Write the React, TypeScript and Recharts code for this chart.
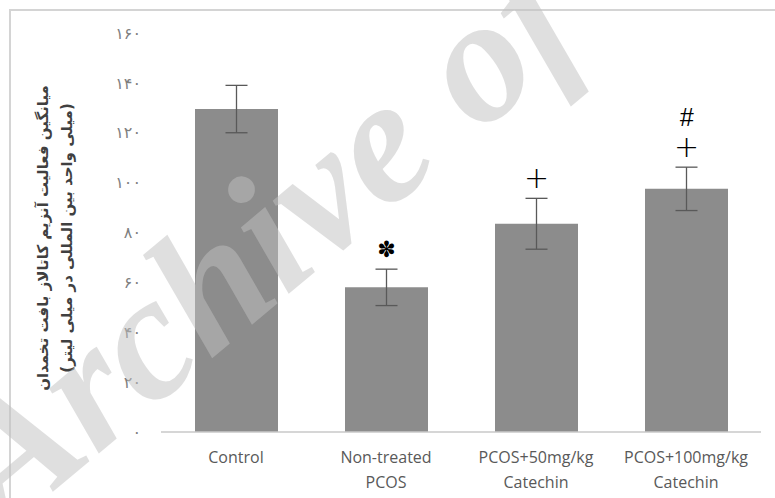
import { BarChart, Bar, XAxis, YAxis, ErrorBar, LabelList } from "recharts";

const groups: string[] = [
  "Control",
  "Non-treated\nPCOS",
  "PCOS+50mg/kg\nCatechin",
  "PCOS+100mg/kg\nCatechin",
];
const means: number[] = [129.5, 58, 83.5, 97.5];
const errors: number[] = [9.5, 7.3, 10.2, 8.7];
const marks: string[][] = [[], ["✽"], ["+"], ["+", "#"]];
const yTicks: number[] = [0, 20, 40, 60, 80, 100, 120, 140, 160];

const titleLine1 = "میانگین فعالیت آنزیم کاتالاز بافت تخمدان";
const titleLine2 = "(میلی واحد بین المللی در میلی لیتر)";

const data = groups.map((g, i) => ({ name: g, mean: means[i], err: errors[i] }));

const faDigits = "۰۱۲۳۴۵۶۷۸۹";
const toFa = (v: number) => String(v).replace(/[0-9]/g, (d) => faDigits[Number(d)]);

function GroupTick(props: any) {
  const { x, y, payload } = props;
  const lines = String(payload.value).split("\n");
  return (
    <text x={x} y={y + 23} textAnchor="middle" fill="#595959" fontSize={16} fontFamily="Open Sans">
      {lines.map((l, i) => (
        <tspan key={i} x={x} dy={i === 0 ? 0 : 25}>
          {l}
        </tspan>
      ))}
    </text>
  );
}

function MarkLabel(props: any) {
  const { x, y, width, height, value, index } = props;
  const list = marks[index] || [];
  if (!list.length) return null;
  const pxPerUnit = height / value;
  const errTop = y - errors[index] * pxPerUnit;
  const cx = x + width / 2;
  return (
    <g>
      {list.map((m, i) => {
        const cy = errTop - 20 - i * 30;
        if (m === "+") {
          return (
            <text key={i} x={cx} y={cy + 10} textAnchor="middle" fontSize={30} fontWeight={300} fontFamily="DejaVu Sans" fill="#000">
              {m}
            </text>
          );
        }
        if (m === "#") {
          return (
            <text key={i} x={cx} y={cy + 9} textAnchor="middle" fontSize={25} fontFamily="Liberation Sans" fontStyle="italic" fill="#000">
              {m}
            </text>
          );
        }
        return (
          <text key={i} x={cx} y={cy + 8} textAnchor="middle" fontSize={22} fontFamily="DejaVu Sans" fill="#000">
            {m}
          </text>
        );
      })}
    </g>
  );
}

export default function App() {
  return (
    <div style={{ position: "absolute", left: 0, top: 0, width: 775, height: 498, background: "#fff", overflow: "hidden" }}>
      <div
        style={{
          position: "absolute",
          left: 9,
          top: 9,
          width: 800,
          height: 520,
          borderLeft: "2px solid #d4d4d4",
          borderTop: "2px solid #d4d4d4",
        }}
      />
      <BarChart
        width={775}
        height={498}
        data={data}
        margin={{ top: 33, right: 14, bottom: 0, left: 0 }}
        style={{ position: "absolute", left: 0, top: 0 }}
      >
        <XAxis
          dataKey="name"
          height={66}
          interval={0}
          tickLine={false}
          axisLine={{ stroke: "#c8c8c8", strokeWidth: 1.5 }}
          tick={<GroupTick />}
        />
        <YAxis
          width={161}
          domain={[0, 160]}
          ticks={yTicks}
          tickFormatter={toFa}
          axisLine={false}
          tickLine={false}
          tickSize={0}
          tickMargin={20}
          tick={{ fill: "#7f7f7f", fontSize: 16, fontFamily: "DejaVu Sans", letterSpacing: 2 }}
        />
        <Bar dataKey="mean" fill="#8c8c8c" barSize={83} isAnimationActive={false}>
          <ErrorBar dataKey="err" width={11} stroke="#595959" strokeWidth={1.3} />
          <LabelList dataKey="mean" content={<MarkLabel />} />
        </Bar>
      </BarChart>
      <svg width={775} height={498} style={{ position: "absolute", left: 0, top: 0, pointerEvents: "none" }}>
        <g fontFamily="DejaVu Sans" fontWeight="bold" fontSize={15} fill="#404040" textAnchor="middle" direction="rtl">
          <text x={0} y={0} transform="translate(48,238) rotate(-90)" direction="rtl">
            {titleLine1}
          </text>
          <text x={0} y={0} transform="translate(72,238) rotate(-90)" direction="rtl">
            {titleLine2}
          </text>
        </g>
        <text
          x={0}
          y={0}
          transform="translate(5,532) rotate(-40)"
          fontFamily="Liberation Serif"
          fontStyle="italic"
          fontWeight="bold"
          fontSize={178}
          fill="#c0c0c0"
          fillOpacity={0.5}
        >
          Archive of
        </text>
      </svg>
    </div>
  );
}
